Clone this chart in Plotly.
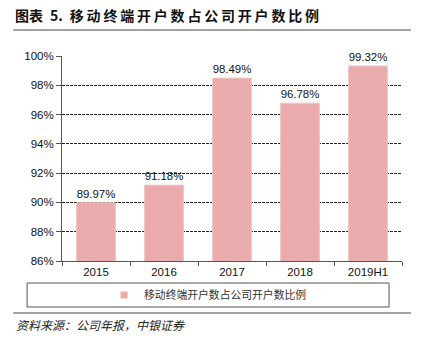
import plotly.graph_objects as go

categories = ["2015", "2016", "2017", "2018", "2019H1"]
values = [89.97, 91.18, 98.49, 96.78, 99.32]
labels = ["89.97%", "91.18%", "98.49%", "96.78%", "99.32%"]
series_name = "移动终端开户数占公司开户数比例"
yticks = [86, 88, 90, 92, 94, 96, 98, 100]
yticklabels = ["86%", "88%", "90%", "92%", "94%", "96%", "98%", "100%"]

BAR_COLOR = "#E9ABAB"
W, H = 421, 342
fig = go.Figure()
fig.add_trace(go.Bar(
    x=categories, y=values, name=series_name, showlegend=False,
    marker=dict(color=BAR_COLOR, line=dict(width=1, color="#F0C4C4")),
    text=labels, textposition="outside", cliponaxis=False,
    textfont=dict(family="Liberation Sans, Arial", size=11.5, color="#111"),
    width=0.57,
))
# legend entry (small square marker)
fig.add_trace(go.Scatter(
    x=[None], y=[None], mode="markers", name=series_name,
    marker=dict(symbol="square", size=7, color=BAR_COLOR),
))

fig.update_layout(
    width=W, height=H,
    margin=dict(l=62, r=19, t=56, b=81),
    paper_bgcolor="white", plot_bgcolor="white",
    showlegend=True,
    legend=dict(orientation="h", x=(208-62)/341, xref="paper", y=-(295-261)/205, yref="paper",
                xanchor="center", yanchor="middle",
                font=dict(family="Noto Sans CJK SC", size=10.8, color="#333"),
                itemwidth=30, bgcolor="rgba(0,0,0,0)"),
    font=dict(family="Liberation Sans, Arial", size=11.5, color="#111"),
    bargap=0.43,
)
fig.update_yaxes(
    range=[86, 100], tickvals=yticks, ticktext=yticklabels,
    showgrid=True, gridcolor="#222", griddash="3px,1px", gridwidth=1,
    showline=True, linecolor="#555", linewidth=1,
    ticks="outside", ticklen=5, tickcolor="#555",
    zeroline=False,
)
fig.update_xaxes(
    showline=True, linecolor="#555", linewidth=1,
    ticks="outside", ticklen=4, tickcolor="#555", tickson="boundaries",
    showgrid=False,
)

def px_x(x):
    return (x - 62) / 341
def px_y(y):
    return (261 - y) / 205

title_text = "<b>图表\u20025.\u2002" + "\u2009".join("移动终端开户数占公司开户数比例") + "</b>"
fig.add_annotation(text=title_text,
                   xref="paper", yref="paper", x=px_x(13), y=px_y(15),
                   xanchor="left", yanchor="middle", showarrow=False,
                   font=dict(family="Noto Sans CJK SC", size=14, color="#111"))
fig.add_annotation(text="<i>资料来源：公司年报，中银证券</i>",
                   xref="paper", yref="paper", x=px_x(14), y=px_y(324),
                   xanchor="left", yanchor="middle", showarrow=False,
                   font=dict(family="Noto Sans CJK SC", size=12, color="#222"))

shapes = [
    dict(type="line", xref="paper", yref="paper", x0=px_x(13), x1=px_x(412),
         y0=px_y(30), y1=px_y(30), line=dict(color="#444", width=1)),
    dict(type="line", xref="paper", yref="paper", x0=px_x(13), x1=px_x(412),
         y0=px_y(313), y1=px_y(313), line=dict(color="#444", width=1)),
    dict(type="rect", xref="paper", yref="paper", x0=px_x(27), x1=px_x(390),
         y0=px_y(307), y1=px_y(283), line=dict(color="#555", width=1)),
]
fig.update_layout(shapes=shapes)
fig.write_html("out.html")
